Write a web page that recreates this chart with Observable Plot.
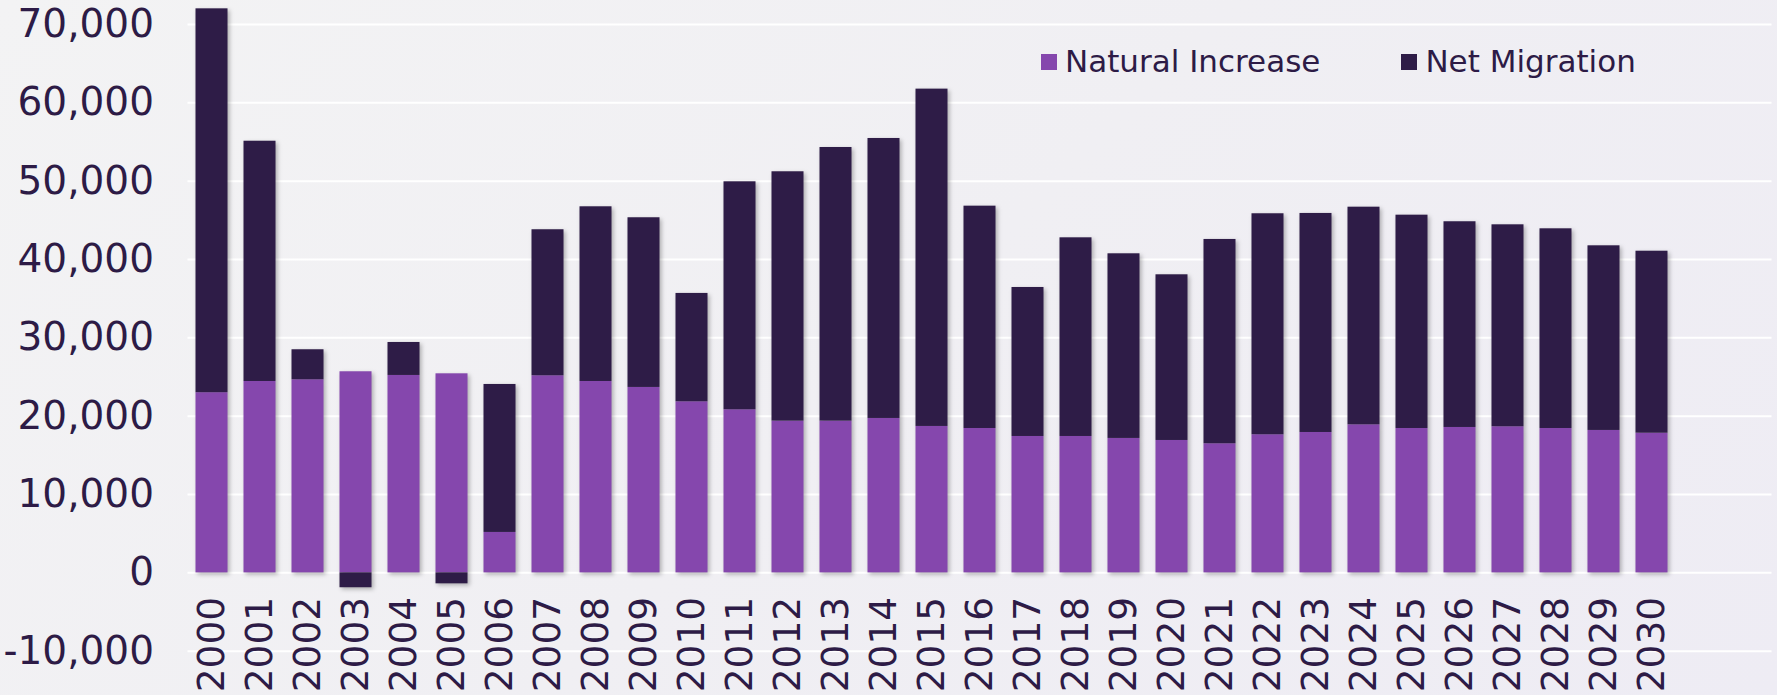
<!DOCTYPE html>
<html>
<head>
<meta charset="utf-8">
<script src="https://cdn.jsdelivr.net/npm/d3@7"></script>
<script src="https://cdn.jsdelivr.net/npm/@observablehq/plot@0.6"></script>
<style>
  html, body { margin: 0; padding: 0; }
  body {
    width: 1777px; height: 695px; overflow: hidden; position: relative;
    background: linear-gradient(135deg, #f3f3f4 0%, #f0eff3 50%, #eeecf4 100%);
    font-family: "DejaVu Sans", sans-serif; color: #2d1b46;
  }
  #chart { position: absolute; left: 0; top: 0; }
  #chart svg g[aria-label="bar"] { filter: drop-shadow(2px 2px 2px rgba(0,0,0,0.28)); }
  #legend {
    position: absolute; left: 1041px; top: 46px; height: 31px;
    display: flex; align-items: center; gap: 81px;
    font-size: 31px; line-height: 31px; white-space: nowrap;
  }
  .item { display: flex; align-items: center; }
  .sw { width: 16px; height: 16px; margin-right: 8px; display: inline-block; }
</style>
</head>
<body>
<div id="chart"></div>
<div id="legend"></div>
<script>
const years = [2000,2001,2002,2003,2004,2005,2006,2007,2008,2009,2010,2011,2012,2013,2014,2015,2016,2017,2018,2019,2020,2021,2022,2023,2024,2025,2026,2027,2028,2029,2030];
const naturalIncrease = [23000,24430,24650,25670,25200,25410,5160,25160,24430,23670,21840,20820,19370,19370,19710,18690,18430,17410,17410,17160,16900,16480,17630,17920,18900,18430,18560,18650,18430,18180,17830];
const netMigration = [49000,30670,3830,-1900,4210,-1400,18890,18640,22300,21660,13830,29100,31830,34930,35740,43060,28380,19020,25360,23570,21150,26080,28210,27960,27780,27230,26260,25780,25490,23570,23230];
const seriesNames = ["Natural Increase", "Net Migration"];
const seriesColors = ["#8547ad", "#2e1c47"];
const yTicks = [-10000,0,10000,20000,30000,40000,50000,60000,70000];

const rows = [];
years.forEach((yr, i) => {
  rows.push({year: yr, series: seriesNames[0], value: naturalIncrease[i]});
  rows.push({year: yr, series: seriesNames[1], value: netMigration[i]});
});

const textColor = "#2d1b46";

const chart = Plot.plot({
  width: 1777,
  height: 695,
  marginLeft: 187.5,
  marginRight: 5.5,
  marginTop: 24,
  marginBottom: 44.3,
  style: {background: "transparent", fontFamily: "DejaVu Sans, sans-serif", color: textColor, overflow: "visible"},
  x: {type: "band", domain: years, range: [187.5, 1675.5], paddingInner: 0.333, paddingOuter: 0.1667, axis: null},
  y: {domain: [-10000, 70000], axis: null},
  color: {domain: seriesNames, range: seriesColors},
  marks: [
    Plot.ruleY(yTicks, {stroke: "#ffffff", strokeWidth: 2}),
    Plot.barY(rows, Plot.stackY({x: "year", y: "value", fill: "series", z: "series"})),
    Plot.axisY({ticks: yTicks, tickSize: 0, tickPadding: 34, fontSize: 39, fill: textColor, label: null,
      tickFormat: d => d.toLocaleString("en-US")}),
    Plot.text(years, {x: d => d, y: () => 0, text: d => String(d), rotate: -90, textAnchor: "end",
      dy: 24, fontSize: 37.5, fill: textColor})
  ]
});
document.getElementById("chart").appendChild(chart);

const legend = document.getElementById("legend");
seriesNames.forEach((name, i) => {
  const item = document.createElement("div");
  item.className = "item";
  const sw = document.createElement("span");
  sw.className = "sw";
  sw.style.background = seriesColors[i];
  const label = document.createElement("span");
  label.textContent = name;
  item.appendChild(sw);
  item.appendChild(label);
  legend.appendChild(item);
});
</script>
</body>
</html>
